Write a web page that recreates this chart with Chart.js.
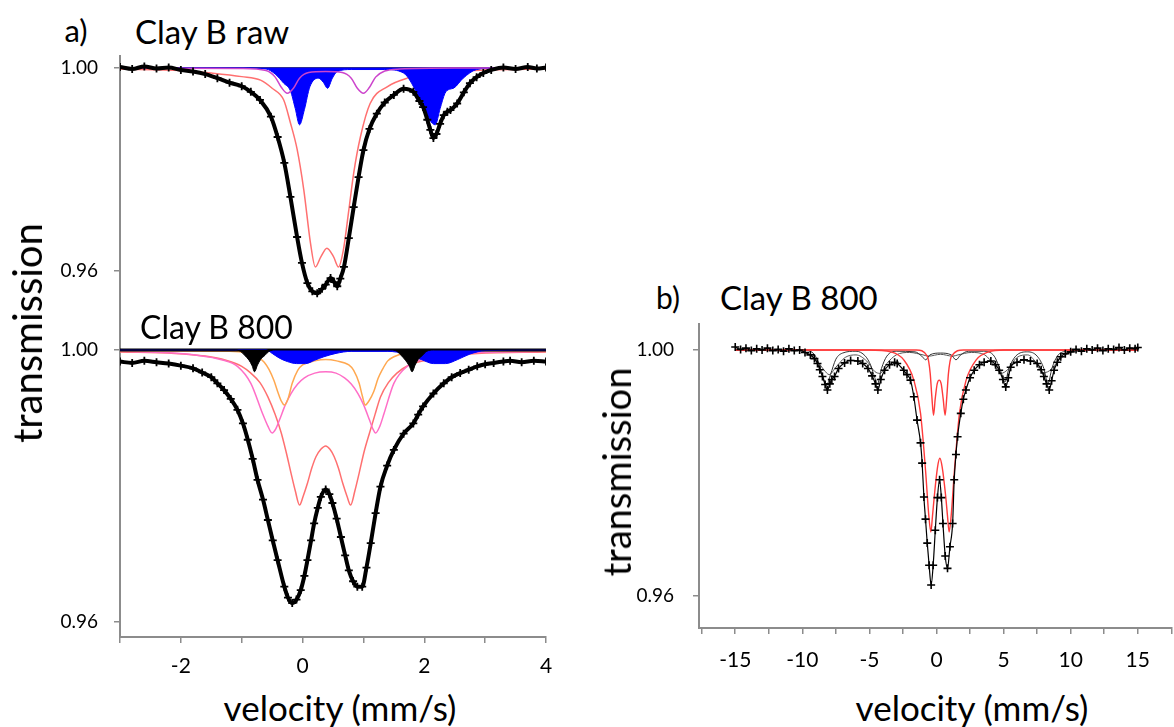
<!DOCTYPE html>
<html>
<head>
<meta charset="utf-8">
<script src="https://cdn.jsdelivr.net/npm/chart.js@4"></script>
<style>
  body { margin: 0; background: #fff; font-family: Lato, sans-serif; }
  #page { position: relative; width: 1174px; height: 727px; overflow: hidden; }
  .box { position: absolute; }
  .txt { position: absolute; color: #000; white-space: nowrap; font-family: Lato, sans-serif; }
</style>
</head>
<body>
<div id="page">
  <div class="box" style="left:0;top:55px;width:560px;height:245px"><canvas id="rawChart"></canvas></div>
  <div class="box" style="left:0;top:300px;width:560px;height:380px"><canvas id="fired800Chart"></canvas></div>
  <div class="box" style="left:600px;top:323px;width:574px;height:350px"><canvas id="wideChart"></canvas></div>

  <div class="txt" style="left:76px;top:30px;font-size:31px;transform:translate(-50%,-50%)">a)</div>
  <div class="txt" style="left:135px;top:31px;font-size:33px;transform:translateY(-50%)">Clay B raw</div>
  <div class="txt" style="left:140px;top:326px;font-size:32px;transform:translateY(-50%)">Clay B 800</div>
  <div class="txt" style="left:668px;top:297px;font-size:30px;transform:translate(-50%,-50%)">b)</div>
  <div class="txt" style="left:720px;top:297px;font-size:33px;transform:translateY(-50%)">Clay B 800</div>
  <div class="txt" style="left:27px;top:333px;font-size:40px;transform:translate(-50%,-50%) rotate(-90deg)">transmission</div>
  <div class="txt" style="left:616px;top:472px;font-size:38px;transform:translate(-50%,-50%) rotate(-90deg)">transmission</div>
  <div class="txt" style="left:340px;top:707px;font-size:35px;transform:translate(-50%,-50%)">velocity (mm/s)</div>
  <div class="txt" style="left:972px;top:707px;font-size:35px;transform:translate(-50%,-50%)">velocity (mm/s)</div>
</div>

<script>
// ---- Clay B raw (narrow velocity range) ----
const rawDataV = [-3.0, -2.8, -2.6, -2.4, -2.2, -2.0, -1.8, -1.6, -1.4, -1.2, -1.0, -0.85, -0.7, -0.52, -0.41, -0.3, -0.2, -0.09, -0.01, 0.08, 0.16, 0.24, 0.32, 0.38, 0.46, 0.52, 0.57, 0.62, 0.68, 0.76, 0.84, 0.92, 1.0, 1.1, 1.22, 1.35, 1.5, 1.66, 1.82, 1.92, 1.98, 2.05, 2.1, 2.15, 2.2, 2.26, 2.32, 2.38, 2.43, 2.54, 2.65, 2.75, 2.86, 2.97, 3.1, 3.3, 3.5, 3.7, 3.85, 4.0];
const rawDataT = [1.0002, 0.9998, 1.0003, 0.9999, 1.0001, 0.9996, 0.9993, 0.9988, 0.9980, 0.9971, 0.9964, 0.9953, 0.9937, 0.9904, 0.9864, 0.9813, 0.9746, 0.9667, 0.9616, 0.9576, 0.9560, 0.9556, 0.9565, 0.9573, 0.9586, 0.9578, 0.9570, 0.9585, 0.9608, 0.9665, 0.9726, 0.9785, 0.9838, 0.9880, 0.9910, 0.9932, 0.9947, 0.9959, 0.9953, 0.9935, 0.9923, 0.9898, 0.9878, 0.9862, 0.9870, 0.9890, 0.9907, 0.9914, 0.9917, 0.9930, 0.9952, 0.9970, 0.9982, 0.9990, 0.9996, 1.0001, 0.9998, 1.0002, 0.9999, 1.0001];

const rawRedV = [-3.0, -2.0, -1.5, -1.0, -0.69, -0.5, -0.31, -0.2, -0.09, 0.02, 0.13, 0.21, 0.30, 0.40, 0.51, 0.59, 0.67, 0.76, 0.84, 0.95, 1.11, 1.39, 1.72, 2.2, 3.0, 4.0];
const rawRedT = [0.9998, 0.9995, 0.9990, 0.9983, 0.9976, 0.9960, 0.9937, 0.9892, 0.9840, 0.9760, 0.9655, 0.9608, 0.9628, 0.9645, 0.9628, 0.9608, 0.9641, 0.9720, 0.9793, 0.9864, 0.9930, 0.9963, 0.9980, 0.9990, 0.9996, 0.9998];

const rawPinkV = [-3.0, -1.0, -0.6, -0.45, -0.35, -0.25, -0.15, -0.05, 0.1, 0.38, 0.65, 0.8, 0.9, 1.0, 1.1, 1.2, 1.35, 1.6, 2.5, 4.0];
const rawPinkT = [1.0, 0.9999, 0.9995, 0.9982, 0.9962, 0.9950, 0.9960, 0.9980, 0.9991, 0.9993, 0.9991, 0.9980, 0.9960, 0.9950, 0.9962, 0.9982, 0.9994, 0.9998, 1.0, 1.0];

const rawBlueV = [-3.0, -1.0, -0.6, -0.45, -0.31, -0.2, -0.12, -0.05, 0.03, 0.12, 0.26, 0.34, 0.41, 0.49, 0.57, 0.8, 1.35, 1.66, 1.88, 2.0, 2.18, 2.26, 2.34, 2.41, 2.48, 2.64, 2.86, 3.2, 4.0];
const rawBlueT = [1.0, 1.0, 0.9998, 0.9988, 0.9970, 0.9955, 0.9920, 0.9888, 0.9918, 0.9963, 0.9980, 0.9972, 0.9960, 0.9980, 0.9993, 0.9997, 0.9997, 0.9990, 0.9950, 0.9917, 0.9888, 0.9920, 0.9950, 0.9958, 0.9960, 0.9980, 0.9997, 1.0, 1.0];

// ---- Clay B 800 (narrow velocity range) ----
const firedDataV = [-3.0, -2.8, -2.6, -2.4, -2.2, -2.0, -1.8, -1.65, -1.5, -1.4, -1.29, -1.18, -1.07, -0.98, -0.9, -0.82, -0.74, -0.65, -0.57, -0.49, -0.41, -0.3, -0.24, -0.17, -0.1, -0.03, 0.03, 0.08, 0.14, 0.19, 0.25, 0.3, 0.38, 0.44, 0.49, 0.56, 0.63, 0.7, 0.76, 0.83, 0.9, 0.98, 1.05, 1.12, 1.2, 1.28, 1.39, 1.5, 1.66, 1.82, 1.9, 1.98, 2.15, 2.32, 2.45, 2.59, 2.73, 2.87, 3.0, 3.14, 3.3, 3.41, 3.6, 3.8, 4.0];
const firedDataT = [0.9983, 0.9981, 0.9984, 0.9982, 0.9980, 0.9977, 0.9973, 0.9967, 0.9960, 0.9951, 0.9941, 0.9928, 0.9912, 0.9892, 0.9868, 0.9840, 0.9809, 0.9780, 0.9750, 0.9720, 0.9691, 0.9652, 0.9636, 0.9628, 0.9633, 0.9647, 0.9668, 0.9691, 0.9720, 0.9745, 0.9768, 0.9784, 0.9795, 0.9788, 0.9775, 0.9752, 0.9725, 0.9698, 0.9676, 0.9660, 0.9652, 0.9652, 0.9680, 0.9716, 0.9760, 0.9799, 0.9830, 0.9853, 0.9877, 0.9892, 0.9905, 0.9917, 0.9936, 0.9951, 0.9960, 0.9966, 0.9971, 0.9976, 0.9979, 0.9981, 0.9983, 0.9984, 0.9982, 0.9984, 0.9983];

const firedRedV = [-3.0, -2.1, -1.6, -1.26, -1.0, -0.85, -0.7, -0.57, -0.45, -0.35, -0.27, -0.19, -0.12, -0.05, 0.01, 0.08, 0.15, 0.22, 0.3, 0.38, 0.45, 0.52, 0.59, 0.66, 0.73, 0.79, 0.86, 0.93, 1.01, 1.1, 1.19, 1.28, 1.41, 1.55, 1.75, 2.04, 2.4, 2.87, 4.0];
const firedRedT = [0.9997, 0.9995, 0.9991, 0.9985, 0.9976, 0.9966, 0.9952, 0.9931, 0.9905, 0.9878, 0.9850, 0.9819, 0.9793, 0.9772, 0.9785, 0.9804, 0.9826, 0.9843, 0.9854, 0.9859, 0.9854, 0.9843, 0.9826, 0.9804, 0.9785, 0.9772, 0.9793, 0.9819, 0.9850, 0.9878, 0.9905, 0.9931, 0.9952, 0.9966, 0.9978, 0.9985, 0.9991, 0.9995, 0.9997];

const firedPinkV = [-3.0, -2.2, -1.79, -1.3, -1.07, -0.85, -0.66, -0.57, -0.5, -0.44, -0.38, -0.28, -0.19, -0.08, 0.03, 0.2, 0.38, 0.55, 0.69, 0.8, 0.91, 1.0, 1.1, 1.15, 1.2, 1.27, 1.34, 1.5, 1.72, 2.04, 2.6, 4.0];
const firedPinkT = [0.9998, 0.9996, 0.9993, 0.9985, 0.9976, 0.9951, 0.9907, 0.9888, 0.9878, 0.9884, 0.9897, 0.9920, 0.9936, 0.9950, 0.9959, 0.9966, 0.9968, 0.9966, 0.9959, 0.9950, 0.9936, 0.9920, 0.9897, 0.9885, 0.9878, 0.9888, 0.9907, 0.9951, 0.9976, 0.9988, 0.9995, 0.9998];

const firedOrangeV = [-3.0, -1.2, -0.9, -0.74, -0.63, -0.55, -0.47, -0.41, -0.35, -0.3, -0.24, -0.17, -0.08, 0.0, 0.2, 0.38, 0.56, 0.76, 0.84, 0.93, 0.98, 1.03, 1.09, 1.17, 1.24, 1.31, 1.4, 1.5, 1.7, 2.2, 4.0];
const firedOrangeT = [0.9999, 0.9998, 0.9995, 0.9990, 0.9982, 0.9971, 0.9955, 0.9939, 0.9925, 0.9919, 0.9928, 0.9951, 0.9970, 0.9978, 0.9984, 0.9986, 0.9984, 0.9978, 0.9970, 0.9951, 0.9933, 0.9919, 0.9925, 0.9939, 0.9958, 0.9971, 0.9984, 0.9990, 0.9996, 0.9999, 0.9999];

const firedBlackV = [-3.0, -1.1, -1.02, -0.95, -0.88, -0.83, -0.79, -0.74, -0.69, -0.62, -0.55, -0.45, 1.45, 1.55, 1.62, 1.69, 1.75, 1.8, 1.85, 1.9, 1.97, 2.04, 2.15, 4.0];
const firedBlackT = [1.0, 1.0, 0.9998, 0.9992, 0.9985, 0.9977, 0.9968, 0.9978, 0.9986, 0.9992, 0.9998, 1.0, 1.0, 0.9998, 0.9992, 0.9985, 0.9977, 0.9968, 0.9978, 0.9986, 0.9992, 0.9998, 1.0, 1.0];

const firedBlueV = [-3.0, -0.6, -0.5, -0.38, -0.25, -0.1, 0.05, 0.2, 0.35, 0.55, 0.8, 1.4, 1.7, 1.95, 2.15, 2.35, 2.55, 2.75, 3.0, 4.0];
const firedBlueT = [1.0, 1.0, 0.9995, 0.9988, 0.9983, 0.9980, 0.9980, 0.9985, 0.9990, 0.9995, 0.9998, 0.9998, 0.9994, 0.9986, 0.9980, 0.9980, 0.9986, 0.9994, 0.9999, 1.0];

// ---- Clay B 800 (wide velocity range) ----
const wideDataV = [-15.0, -14.6, -14.2, -13.8, -13.4, -13.0, -12.6, -12.2, -11.8, -11.4, -11.0, -10.6, -10.2, -9.8, -9.4, -9.1, -8.87, -8.7, -8.5, -8.3, -8.13, -7.95, -7.8, -7.6, -7.3, -6.85, -6.4, -5.86, -5.5, -5.11, -4.8, -4.55, -4.37, -4.15, -3.87, -3.5, -3.12, -2.93, -2.44, -2.2, -1.94, -1.69, -1.45, -1.19, -1.07, -0.94, -0.82, -0.69, -0.55, -0.4, -0.25, -0.09, 0.07, 0.23, 0.36, 0.48, 0.65, 0.82, 1.0, 1.2, 1.32, 1.45, 1.57, 1.81, 2.0, 2.19, 2.5, 2.81, 3.2, 3.55, 4.05, 4.4, 4.67, 4.95, 5.16, 5.35, 5.53, 6.0, 6.52, 7.0, 7.5, 7.8, 8.0, 8.2, 8.4, 8.58, 8.76, 9.0, 9.26, 9.6, 10.0, 10.4, 10.8, 11.2, 11.6, 12.0, 12.4, 12.8, 13.2, 13.6, 14.0, 14.4, 14.8, 15.0];
const wideDataT = [1.0005, 1.0001, 1.0003, 0.9999, 1.0002, 1.0000, 1.0003, 0.9999, 1.0001, 0.9998, 1.0002, 0.9999, 1.0000, 0.9996, 0.9992, 0.9986, 0.9978, 0.9968, 0.9957, 0.9944, 0.9935, 0.9945, 0.9952, 0.9957, 0.9970, 0.9979, 0.9983, 0.9982, 0.9978, 0.9970, 0.9958, 0.9945, 0.9935, 0.9952, 0.9967, 0.9976, 0.9980, 0.9978, 0.9967, 0.9960, 0.9951, 0.9924, 0.9886, 0.9849, 0.9816, 0.9761, 0.9725, 0.9686, 0.9650, 0.9618, 0.9650, 0.9707, 0.9760, 0.9789, 0.9760, 0.9718, 0.9665, 0.9645, 0.9680, 0.9718, 0.9789, 0.9830, 0.9859, 0.9897, 0.9920, 0.9935, 0.9955, 0.9967, 0.9976, 0.9980, 0.9982, 0.9976, 0.9967, 0.9952, 0.9940, 0.9955, 0.9972, 0.9980, 0.9984, 0.9982, 0.9978, 0.9968, 0.9957, 0.9945, 0.9935, 0.9950, 0.9967, 0.9980, 0.9989, 0.9994, 0.9997, 1.0001, 0.9998, 1.0002, 1.0000, 1.0003, 0.9999, 1.0002, 1.0001, 1.0004, 1.0000, 1.0003, 1.0002, 1.0004];

const wideRedV = [-15.0, -5.0, -3.4, -2.44, -1.69, -1.19, -0.82, -0.57, -0.42, -0.3, -0.17, 0.08, 0.25, 0.42, 0.69, 0.82, 0.94, 1.09, 1.34, 1.71, 2.21, 2.96, 3.9, 5.0, 15.0];
const wideRedT = [1.0, 1.0, 0.9997, 0.9984, 0.9951, 0.9897, 0.9805, 0.9730, 0.9704, 0.9730, 0.9761, 0.9810, 0.9824, 0.9810, 0.9761, 0.9730, 0.9704, 0.9730, 0.9805, 0.9897, 0.9951, 0.9984, 0.9997, 1.0, 1.0];

const wideInnerV = [-15.0, -1.5, -0.69, -0.47, -0.35, -0.22, -0.1, 0.05, 0.2, 0.35, 0.5, 0.64, 0.77, 0.89, 1.12, 2.0, 15.0];
const wideInnerT = [1.0, 1.0, 0.9990, 0.9962, 0.9925, 0.9894, 0.9920, 0.9945, 0.9951, 0.9945, 0.9920, 0.9894, 0.9925, 0.9962, 0.9990, 1.0, 1.0];

const sextetAV = [-15.0, -10.0, -9.2, -8.8, -8.5, -8.2, -7.9, -7.5, -7.0, -6.0, -5.3, -4.9, -4.6, -4.4, -4.1, -3.7, -3.0, -1.6, -1.1, -0.8, -0.5, 0.3, 1.1, 1.45, 1.8, 2.4, 3.5, 4.3, 4.8, 5.1, 5.4, 5.9, 6.8, 7.5, 8.0, 8.3, 8.6, 9.0, 9.6, 10.5, 15.0];
const sextetAT = [1.0, 1.0, 0.9995, 0.9980, 0.9960, 0.9942, 0.9960, 0.9985, 0.9995, 0.9998, 0.9990, 0.9975, 0.9955, 0.9945, 0.9970, 0.9990, 0.9998, 0.9997, 0.9990, 0.9984, 0.9992, 0.9995, 0.9992, 0.9984, 0.9992, 0.9998, 0.9998, 0.9990, 0.9965, 0.9948, 0.9970, 0.9990, 0.9997, 0.9990, 0.9970, 0.9945, 0.9970, 0.9990, 0.9998, 1.0, 1.0];

const sextetBV = [-15.0, -11.0, -9.8, -9.0, -8.4, -8.0, -7.5, -6.8, -6.0, -5.2, -4.6, -4.2, -3.7, -3.0, -2.0, -1.0, -0.6, 0.3, 1.2, 1.6, 2.6, 3.6, 4.3, 4.8, 5.3, 6.0, 6.8, 7.4, 7.9, 8.4, 9.2, 10.0, 11.0, 15.0];
const sextetBT = [1.0, 1.0, 0.9996, 0.9985, 0.9968, 0.9960, 0.9972, 0.9988, 0.9992, 0.9982, 0.9965, 0.9962, 0.9978, 0.9992, 0.9996, 0.9992, 0.9990, 0.9993, 0.9990, 0.9992, 0.9996, 0.9992, 0.9975, 0.9962, 0.9968, 0.9988, 0.9992, 0.9980, 0.9963, 0.9966, 0.9985, 0.9996, 1.0, 1.0];

// axis ticks
const narrowTicks = [-3, -2, -1, 0, 1, 2, 3, 4];
const narrowLabels = [-2, 0, 2, 4];
const wideTicks = [-17.5, -15, -12.5, -10, -7.5, -5, -2.5, 0, 2.5, 5, 7.5, 10, 12.5, 15, 17.5];
const wideLabels = [-15, -10, -5, 0, 5, 10, 15];
const transTicks = [0.96, 1.00];

function pts(v, t) {
  return v.map((x, i) => ({ x: x, y: t[i] }));
}

const axisGrey = "#8c8c8c";

function spectrum(v, t) {
  return {
    data: pts(v, t), borderColor: "#000", borderWidth: 4,
    pointStyle: "cross", pointRadius: 4, pointBorderWidth: 1.8, pointBorderColor: "#000",
    cubicInterpolationMode: "monotone", order: 0
  };
}
function fitLine(v, t, color, width, order) {
  return {
    data: pts(v, t), borderColor: color, borderWidth: width, pointRadius: 0,
    cubicInterpolationMode: "monotone", order: order
  };
}
function filled(v, t, color, order) {
  return {
    data: pts(v, t), borderColor: color, backgroundColor: color, borderWidth: 1,
    pointRadius: 0, cubicInterpolationMode: "monotone", fill: { value: 1 }, order: order
  };
}

// no extra padding around the plot area, so the scale maps straight onto the box
function noPad(s) {
  s.paddingTop = 0; s.paddingBottom = 0; s.paddingLeft = 0; s.paddingRight = 0;
}

function makeChart(id, datasets, cfg) {
  return new Chart(document.getElementById(id), {
    type: "line",
    data: { datasets: datasets },
    options: {
      responsive: true,
      maintainAspectRatio: false,
      animation: false,
      layout: { autoPadding: false, padding: { top: 0, bottom: 0, left: 0, right: cfg.padRight } },
      plugins: { legend: { display: false }, tooltip: { enabled: false } },
      scales: {
        x: {
          type: "linear",
          display: cfg.showX,
          min: cfg.xMin, max: cfg.xMax,
          afterBuildTicks: s => { s.ticks = cfg.xTicks.map(v => ({ value: v })); },
          afterFit: s => { s.height = cfg.xHeight; noPad(s); },
          ticks: {
            autoSkip: false, maxRotation: 0, padding: cfg.xPad, color: "#000",
            font: { family: "Lato", size: 21 },
            callback: v => cfg.xLabels.includes(v) ? String(v) : ""
          },
          grid: { drawOnChartArea: false, drawTicks: true, tickLength: 6, color: axisGrey, lineWidth: 1.5 },
          border: { display: true, color: axisGrey, width: 2 }
        },
        y: {
          type: "linear",
          min: cfg.yMin, max: cfg.yMax,
          afterBuildTicks: s => { s.ticks = transTicks.map(v => ({ value: v })); },
          afterFit: s => { s.width = cfg.yWidth; noPad(s); },
          ticks: {
            autoSkip: false, padding: cfg.yPad, color: "#000",
            font: { family: "Lato", size: 19 },
            callback: v => v.toFixed(2)
          },
          grid: { drawOnChartArea: false, drawTicks: true, tickLength: 6, color: axisGrey, lineWidth: 1.5 },
          border: { display: true, color: axisGrey, width: 2 }
        }
      }
    }
  });
}

// top left: raw clay
makeChart("rawChart", [
  spectrum(rawDataV, rawDataT),
  fitLine(rawPinkV, rawPinkT, "#cc44cc", 1.5, 1),
  fitLine([-3, 4], [1, 1], "#2b2b99", 2, 4),
  filled(rawBlueV, rawBlueT, "#0000ff", 2),
  fitLine(rawRedV, rawRedT, "#ff7070", 1.5, 3)
], {
  showX: false, xMin: -3, xMax: 4, xTicks: narrowTicks, xLabels: narrowLabels, xHeight: 0, xPad: 0,
  yMin: 0.95429, yMax: 1.00256, yWidth: 120, yPad: 16, padRight: 14
});

// bottom left: fired at 800
makeChart("fired800Chart", [
  spectrum(firedDataV, firedDataT),
  filled(firedBlackV, firedBlackT, "#000", 1),
  filled(firedBlueV, firedBlueT, "#0000ff", 2),
  fitLine([-3, 4], [1, 1], "#000", 3, 3),
  fitLine(firedOrangeV, firedOrangeT, "#ffa850", 1.5, 4),
  fitLine(firedPinkV, firedPinkT, "#ff6ec7", 1.5, 5),
  fitLine(firedRedV, firedRedT, "#ff7070", 1.5, 6)
], {
  showX: true, xMin: -3, xMax: 4, xTicks: narrowTicks, xLabels: narrowLabels, xHeight: 43, xPad: 11,
  yMin: 0.9578, yMax: 1.00735, yWidth: 120, yPad: 16, padRight: 14
});

// right: fired at 800, wide range
const wideSpectrum = spectrum(wideDataV, wideDataT);
wideSpectrum.borderWidth = 1.2;
wideSpectrum.pointBorderWidth = 1.6;
makeChart("wideChart", [
  wideSpectrum,
  fitLine(wideRedV, wideRedT, "#ff3b3b", 1.4, 1),
  fitLine(wideInnerV, wideInnerT, "#ff3b3b", 1.4, 2),
  fitLine(sextetAV, sextetAT, "#333", 1, 3),
  fitLine(sextetBV, sextetBT, "#555", 1, 4)
], {
  showX: true, xMin: -17.7, xMax: 17.55, xTicks: wideTicks, xLabels: wideLabels, xHeight: 45, xPad: 14,
  yMin: 0.9548, yMax: 1.00439, yWidth: 99, yPad: 19, padRight: 2
});
</script>
</body>
</html>
